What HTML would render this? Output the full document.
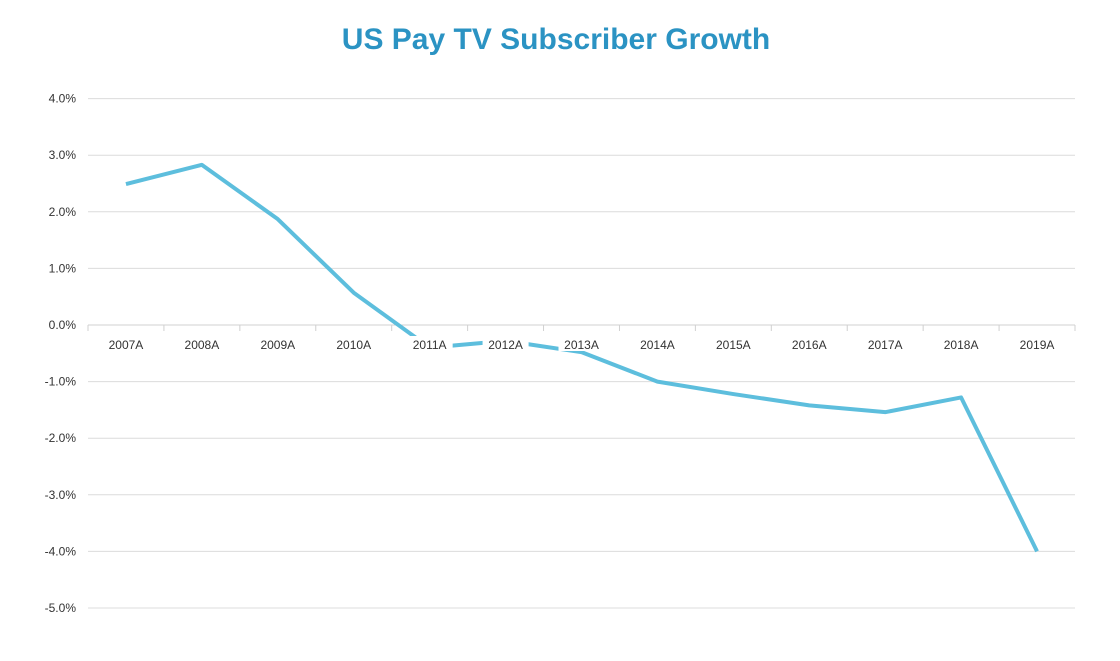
<!DOCTYPE html>
<html><head><meta charset="utf-8"><style>
body{margin:0;background:#fff;width:1120px;height:656px;overflow:hidden;font-family:"Liberation Sans",sans-serif}
</style></head><body>
<svg width="1120" height="656">
<text x="556" y="49" text-anchor="middle" font-size="30" font-weight="bold" fill="#2b93c3">US Pay TV Subscriber Growth</text>
<g id="grid"></g><g id="line"></g><g id="cats"></g>
</svg>
<script>
const categories=["2007A","2008A","2009A","2010A","2011A","2012A","2013A","2014A","2015A","2016A","2017A","2018A","2019A"];
const values=[2.49,2.83,1.87,0.57,-0.4,-0.28,-0.48,-1.0,-1.22,-1.42,-1.54,-1.28,-4.0];
const yTicks=[4,3,2,1,0,-1,-2,-3,-4,-5];
const NS="http://www.w3.org/2000/svg";
const x0=88,x1=1075,step=(x1-x0)/categories.length;
function xs(i){return x0+step*(i+0.5);}
function ys(v){return 325-v*56.6;}
const g=document.getElementById('grid'),l=document.getElementById('line'),c=document.getElementById('cats');
function mk(t,a,p){const e=document.createElementNS(NS,t);for(const k in a)e.setAttribute(k,a[k]);p.appendChild(e);return e;}
yTicks.forEach(v=>{
 const ln=mk('line',{x1:x0,x2:x1,y1:ys(v),y2:ys(v),stroke:v===0?'#d0d0d0':'#dcdcdc','stroke-width':1},g);
 
 
 const t=mk('text',{x:76,y:ys(v)+4,'text-anchor':'end','font-size':12,fill:'#333'},g);
 t.textContent=v.toFixed(1)+'%';
 
 
});
for(let i=0;i<=categories.length;i++){
 const tk=mk('line',{x1:x0+step*i,x2:x0+step*i,y1:325,y2:331,stroke:'#d0d0d0'},g);
 
 
}
const p=mk('polyline',{points:values.map((v,i)=>xs(i)+','+ys(v)).join(' '),fill:'none',stroke:'#5dbedd','stroke-width':4,'stroke-linejoin':'round'},l);


categories.forEach((cat,i)=>{
 const r=mk('rect',{x:xs(i)-23,y:336,width:46,height:15,fill:'#fff'},c);
 
 
 const t=mk('text',{x:xs(i),y:349,'text-anchor':'middle','font-size':12,fill:'#333'},c);
 t.textContent=cat;
 
 
});
</script>
</body></html>
